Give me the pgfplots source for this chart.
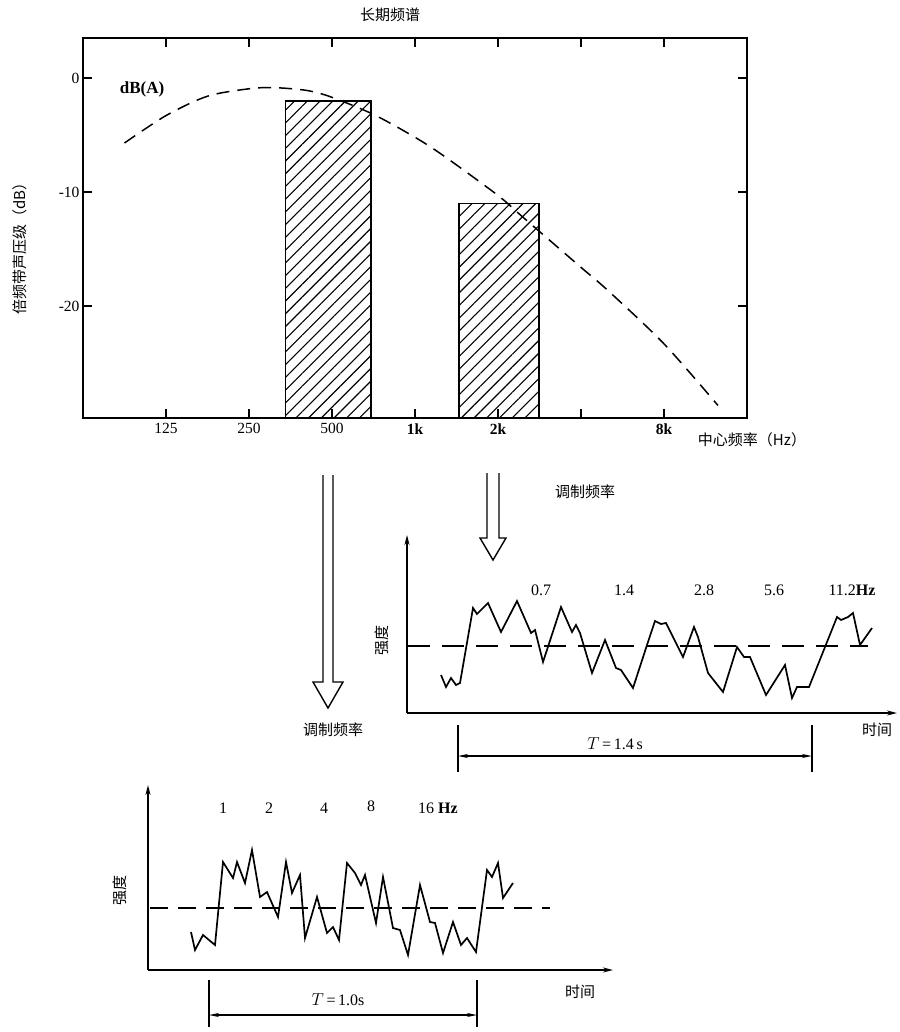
\documentclass[border=0pt]{standalone}
\usepackage{fontspec}
\setmainfont{Liberation Serif}
\newfontfamily\cjk{Noto Sans CJK SC}
\usepackage{pgfplots}
\pgfplotsset{compat=1.18}
\usetikzlibrary{patterns.meta,arrows.meta}

\begin{document}
\begin{tikzpicture}
\path[use as bounding box] (0pt,0pt) rectangle (899pt,-1032pt);

% ---------------- top: long-term spectrum ----------------
\begin{axis}[at={(83pt,-418pt)}, anchor=south west, scale only axis,
  width=664pt, height=380pt,
  xmin=-1, xmax=7, ymin=-29.8, ymax=3.5,
  axis line style={line width=1.8pt},
  xtick={0,1,2,3,4,5,6},
  xticklabels={125,250,500,\textbf{1k},\textbf{2k},,\textbf{8k}},
  ytick={0,-10,-20}, yticklabels={0,-10,-20},
  tick align=inside, major tick length=9pt,
  tick style={line width=1.5pt, black},
  ticklabel style={font=\fontsize{15.5}{17}\selectfont},
  xticklabel style={yshift=-2pt},
  /pgf/number format/assume math mode=true, clip=false]
\addplot[draw=black, line width=1.7pt, pattern={Lines[angle=45,distance=9pt,line width=1.1pt]}]
  coordinates {(1.44,-29.8) (1.44,-2.0) (2.47,-2.0) (2.47,-29.8)} --cycle;
\addplot[draw=black, line width=1.7pt, pattern={Lines[angle=45,distance=9pt,line width=1.1pt]}]
  coordinates {(3.53,-29.8) (3.53,-11.0) (4.49,-11.0) (4.49,-29.8)} --cycle;
\addplot[smooth, line width=1.5pt, dash pattern=on 13pt off 8pt] coordinates {
 (-0.5,-5.7) (0,-3.3) (0.5,-1.6) (1.0,-0.95) (1.3,-0.85) (1.7,-1.1) (2.0,-1.7)
 (2.5,-3.2) (3.0,-5.2) (3.36,-6.9) (4.0,-10.3) (4.3,-12.2) (5.0,-16.6)
 (5.32,-18.6) (6.0,-23.3) (6.65,-28.7)};
\end{axis}

% ---------------- middle signal ----------------
\begin{axis}[at={(407pt,-713pt)}, anchor=south west, scale only axis,
  width=490pt, height=178pt, xmin=0, xmax=490, ymin=0, ymax=178,
  axis x line=bottom, axis y line=left, xtick=\empty, ytick=\empty,
  axis line style={line width=1.6pt, -{Stealth[length=10pt,width=5pt]}}, clip=false]
\addplot[line width=1.5pt, dash pattern=on 22pt off 12pt] coordinates {(1,67) (461,67)};
\addplot[line width=1.7pt] coordinates {
 (34,38) (39,26) (44,35) (49,28) (53,30) (66,105) (70,99) (81,110) (94,81)
 (110,112) (124,80) (128,83) (136,51) (154,106) (165,81) (169,88) (173,80)
 (185,40) (198,73) (209,45) (214,43) (226,25) (240,68) (248,92) (254,89)
 (259,90) (276,56) (287,86) (291,76) (301,40) (316,21) (330,66) (337,56)
 (343,56) (359,18) (378,48) (385,15) (390,26) (402,26) (430,96) (434,93)
 (441,96) (446,100) (453,68) (465,85)};
\end{axis}

% ---------------- bottom signal ----------------
\begin{axis}[at={(148pt,-970pt)}, anchor=south west, scale only axis,
  width=465pt, height=185pt, xmin=0, xmax=465, ymin=0, ymax=185,
  axis x line=bottom, axis y line=left, xtick=\empty, ytick=\empty,
  axis line style={line width=1.6pt, -{Stealth[length=10pt,width=5pt]}}, clip=false]
\addplot[line width=1.5pt, dash pattern=on 18pt off 10pt] coordinates {(2,62) (402,62)};
\addplot[line width=1.7pt] coordinates {
 (43,38) (47,20) (55,35) (67,25) (75,108) (85,92) (89,108) (97,87) (104,120)
 (112,73) (119,78) (130,53) (138,108) (144,77) (152,95) (157,32) (169,73)
 (179,37) (185,43) (191,30) (199,107) (207,97) (213,85) (217,95) (228,47)
 (235,93) (245,42) (252,40) (260,15) (272,85) (282,48) (287,47) (295,17)
 (305,48) (313,25) (319,32) (328,18) (339,100) (344,93) (350,107) (355,72)
 (365,87)};
\end{axis}

% ---------------- annotations ----------------
\def\cf{\cjk\fontsize{15}{17}\selectfont}
\def\nf{\fontsize{16}{18}\selectfont}
\node[font=\cf] at (390pt,-15pt) {长期频谱};
\node[font=\cf, rotate=90] at (20pt,-245pt) {倍频带声压级（dB）};
\node[font=\cf] at (752pt,-440pt) {中心频率（Hz）};
\node[font=\fontsize{17}{19}\selectfont\bfseries] at (142pt,-89pt) {dB(A)};

% hollow arrows
\draw[line width=1.4pt, line join=miter] (323pt,-475pt)--(323pt,-682pt)--(313pt,-682pt)--(328pt,-708pt)--(343pt,-682pt)--(333pt,-682pt)--(333pt,-475pt);
\draw[line width=1.4pt, line join=miter] (487pt,-473pt)--(487pt,-538pt)--(480pt,-538pt)--(493pt,-560pt)--(506pt,-538pt)--(499pt,-538pt)--(499pt,-473pt);

% middle labels
\node[font=\cf] at (585pt,-492pt) {调制频率};
\node[font=\cf] at (333pt,-730pt) {调制频率};
\node[font=\cf, rotate=90] at (382pt,-640pt) {强度};
\node[font=\cf] at (877pt,-730pt) {时间};
\node[font=\nf] at (541pt,-590pt) {0.7};
\node[font=\nf] at (624pt,-590pt) {1.4};
\node[font=\nf] at (704pt,-590pt) {2.8};
\node[font=\nf] at (774pt,-590pt) {5.6};
\node[font=\nf] at (852pt,-590pt) {11.2\textbf{Hz}};
\draw[line width=1.5pt] (458pt,-725pt)--(458pt,-772pt);
\draw[line width=1.5pt] (812pt,-725pt)--(812pt,-772pt);
\draw[line width=1.5pt, {Stealth[length=10pt,width=4pt]}-{Stealth[length=10pt,width=4pt]}] (458pt,-756pt)--(812pt,-756pt);
\node[font=\nf] at (615pt,-744pt) {$T$\,=\,1.4\,s};

% bottom labels
\node[font=\cf, rotate=90] at (120pt,-890pt) {强度};
\node[font=\cf] at (580pt,-992pt) {时间};
\node[font=\nf] at (223pt,-808pt) {1};
\node[font=\nf] at (269pt,-808pt) {2};
\node[font=\nf] at (324pt,-808pt) {4};
\node[font=\nf] at (371pt,-806pt) {8};
\node[font=\nf] at (438pt,-808pt) {16 \textbf{Hz}};
\draw[line width=1.5pt] (209pt,-980pt)--(209pt,-1027pt);
\draw[line width=1.5pt] (477pt,-980pt)--(477pt,-1027pt);
\draw[line width=1.5pt, {Stealth[length=10pt,width=4pt]}-{Stealth[length=10pt,width=4pt]}] (209pt,-1015pt)--(477pt,-1015pt);
\node[font=\nf] at (338pt,-1000pt) {$T$\,=\,1.0s};
\end{tikzpicture}
\end{document}
